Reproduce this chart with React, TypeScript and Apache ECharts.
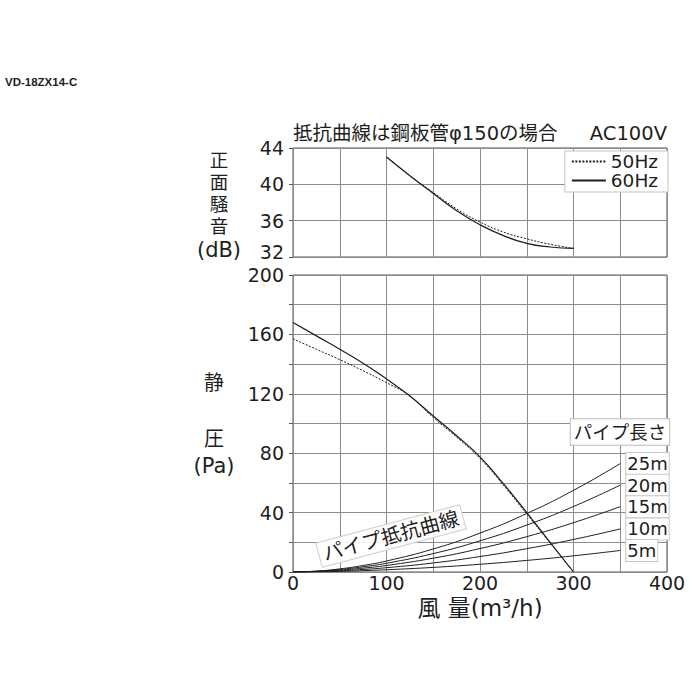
import React, { useEffect, useRef } from "react";
import * as echarts from "echarts";

// ---- data ----
const airflowUpper = [100, 125, 150, 175, 200, 225, 250, 275, 300];
const noise50 = [43.0, 40.95, 39.1, 37.3, 35.85, 34.75, 34.0, 33.4, 32.95];
const noise60 = [43.0, 40.95, 39.0, 37.1, 35.55, 34.35, 33.5, 33.1, 32.95];

const airflowLower = [0, 25, 50, 75, 100, 125, 150, 175, 200, 225, 250, 275, 300];
const pressure50 = [157, 150, 143, 135.5, 127.5, 118.5, 104, 90.8, 76.5, 58.5, 39, 19.5, 0];
const pressure60 = [168, 159, 150, 140.5, 130, 118.5, 105, 91.8, 77.5, 59.5, 40, 20, 0];

const pipeFlow = [0, 25, 50, 75, 100, 150, 200, 250, 300, 350];
const pipeNames = ["25m", "20m", "15m", "10m", "5m"];
const pipe25 = [0, 0.6, 2.1, 4.4, 7.4, 15.5, 26.2, 39.4, 55, 73];
const pipe20 = [0, 0.5, 1.7, 3.5, 5.9, 12.4, 21, 31.6, 44.1, 58.5];
const pipe15 = [0, 0.35, 1.25, 2.6, 4.4, 9.3, 15.8, 23.8, 33.2, 44];
const pipe10 = [0, 0.23, 0.8, 1.7, 2.9, 6.1, 10.4, 15.7, 21.9, 29];
const pipe5 = [0, 0.1, 0.4, 0.9, 1.5, 3.1, 5.2, 7.8, 10.9, 14.5];
const pipeValues = [pipe25, pipe20, pipe15, pipe10, pipe5];

const xTicks = [0, 100, 200, 300, 400];
const pressureTicks = [0, 40, 80, 120, 160, 200];

const FONT = "'DejaVu Sans', 'Noto Sans CJK JP', sans-serif";
const FONT_SMALL = "'Liberation Sans', Arial, sans-serif";
const GRID_COLOR = "#8c8c8c";
const FRAME_COLOR = "#555";
const INK = "#1e1e1e";

const zip = (xs: number[], ys: number[]) => xs.map((x, i) => [x, ys[i]]);

export default function App() {
  const ref = useRef<HTMLDivElement>(null);

  useEffect(() => {
    if (!ref.current) return;
    const chart = echarts.init(ref.current, null, { renderer: "svg" });

    const pipeSeries = pipeNames.map((name, i) => ({
      name,
      type: "line",
      xAxisIndex: 1,
      yAxisIndex: 1,
      data: zip(pipeFlow, pipeValues[i]),
      smooth: true,
      symbol: "none",
      lineStyle: { color: INK, width: 1 },
      endLabel: {
        show: true,
        formatter: name,
        distance: 6,
        fontSize: 18,
        fontFamily: FONT,
        color: INK,
        backgroundColor: "#fff",
        borderColor: "#c8c8c8",
        borderWidth: 1,
        padding: [2, 1, 1, 1],
      },
      z: 3,
    }));

    const lineSeries = (name: string, xi: number, xs: number[], ys: number[], dashed: boolean) => ({
      name,
      type: "line",
      xAxisIndex: xi,
      yAxisIndex: xi,
      data: zip(xs, ys),
      smooth: true,
      symbol: "none",
      color: INK,
      itemStyle: { color: INK },
      lineStyle: dashed ? { color: INK, width: 1, type: [2, 1.5] } : { color: INK, width: 1.2 },
      z: 4,
    });

    const option: any = {
      animation: false,
      backgroundColor: "#fff",
      textStyle: { fontFamily: FONT },
      grid: [
        { left: 293, top: 148, width: 374, height: 109, show: true, borderColor: FRAME_COLOR, borderWidth: 1 },
        { left: 293, top: 275, width: 374, height: 297, show: true, borderColor: FRAME_COLOR, borderWidth: 1 },
      ],
      legend: {
        data: ["50Hz", "60Hz"],
        orient: "vertical",
        right: 32,
        top: 151,
        itemWidth: 34,
        itemHeight: 10,
        itemGap: 0,
        padding: [1, 10, 2, 6],
        backgroundColor: "#fff",
        borderColor: "#c4c4c4",
        borderWidth: 1,
        itemStyle: { opacity: 0 },
        textStyle: { fontSize: 18.5, lineHeight: 19, color: INK, fontFamily: FONT },
      },
      xAxis: [
        {
          gridIndex: 0,
          type: "value",
          min: 0,
          max: 400,
          interval: 50,
          axisLabel: { show: false },
          axisTick: { show: false },
          axisLine: { show: false },
          splitLine: { lineStyle: { color: GRID_COLOR, width: 1 } },
        },
        {
          gridIndex: 1,
          type: "value",
          min: 0,
          max: 400,
          interval: 50,
          axisLabel: {
            formatter: (v: number) => (xTicks.includes(v) ? String(v) : ""),
            margin: 1,
            fontSize: 19,
            color: INK,
            fontFamily: FONT,
          },
          axisTick: { show: false },
          axisLine: { show: false },
          splitLine: { lineStyle: { color: GRID_COLOR, width: 1 } },
          name: "風 量(m³/h)",
          nameLocation: "middle",
          nameGap: 24,
          nameTextStyle: { fontSize: 23, color: INK, fontFamily: FONT, verticalAlign: "top" },
        },
      ],
      yAxis: [
        {
          gridIndex: 0,
          type: "value",
          min: 32,
          max: 44,
          interval: 4,
          axisLabel: {
            margin: 9,
            fontSize: 19,
            color: INK,
            fontFamily: FONT,
            formatter: (v: number) => (v === 32 ? "{low|32}" : String(v)),
            rich: { low: { fontSize: 19, lineHeight: 19, color: INK, fontFamily: FONT, padding: [0, 0, 10, 0] } },
          },
          axisTick: { show: true, length: 4, lineStyle: { color: FRAME_COLOR } },
          axisLine: { show: false },
          splitLine: { lineStyle: { color: GRID_COLOR, width: 1 } },
        },
        {
          gridIndex: 1,
          type: "value",
          min: 0,
          max: 200,
          interval: 20,
          axisLabel: {
            margin: 9,
            fontSize: 19,
            color: INK,
            fontFamily: FONT,
            formatter: (v: number) => (pressureTicks.includes(v) ? String(v) : ""),
          },
          axisTick: { show: true, length: 4, lineStyle: { color: FRAME_COLOR } },
          axisLine: { show: false },
          splitLine: { lineStyle: { color: GRID_COLOR, width: 1 } },
        },
      ],
      series: [
        lineSeries("50Hz", 0, airflowUpper, noise50, true),
        lineSeries("60Hz", 0, airflowUpper, noise60, false),
        lineSeries("50Hz", 1, airflowLower, pressure50, true),
        lineSeries("60Hz", 1, airflowLower, pressure60, false),
        ...pipeSeries,
      ],
      graphic: [
        {
          type: "text",
          x: 5,
          y: 82,
          style: { text: "VD-18ZX14-C", fontSize: 11.5, fontWeight: "bold", fontFamily: FONT_SMALL, fill: INK, verticalAlign: "middle" },
        },
        {
          type: "text",
          x: 293,
          y: 133,
          style: { text: "抵抗曲線は鋼板管φ150の場合", fontSize: 19.5, fontFamily: FONT, fill: INK, verticalAlign: "middle" },
        },
        {
          type: "text",
          x: 667,
          y: 133,
          style: { text: "AC100V", fontSize: 19.5, fontFamily: FONT, fill: INK, align: "right", verticalAlign: "middle" },
        },
        ...["正", "面", "騒", "音"].map((ch, i) => ({
          type: "text",
          x: 219,
          y: 160 + i * 22,
          style: { text: ch, fontSize: 18.5, fontFamily: FONT, fill: INK, align: "center", verticalAlign: "middle" },
        })),
        {
          type: "text",
          x: 219,
          y: 250,
          style: { text: "(dB)", fontSize: 21, fontFamily: FONT, fill: INK, align: "center", verticalAlign: "middle" },
        },
        {
          type: "text",
          x: 214,
          y: 383,
          style: { text: "静", fontSize: 20, fontFamily: FONT, fill: INK, align: "center", verticalAlign: "middle" },
        },
        {
          type: "text",
          x: 214,
          y: 439,
          style: { text: "圧", fontSize: 20, fontFamily: FONT, fill: INK, align: "center", verticalAlign: "middle" },
        },
        {
          type: "text",
          x: 214,
          y: 466,
          style: { text: "(Pa)", fontSize: 21, fontFamily: FONT, fill: INK, align: "center", verticalAlign: "middle" },
        },
        {
          type: "text",
          x: 620,
          y: 432,
          z: 10,
          style: {
            text: "パイプ長さ",
            fontSize: 18.5,
            fontFamily: FONT,
            fill: INK,
            align: "center",
            verticalAlign: "middle",
            backgroundColor: "#fff",
            borderColor: "#bdbdbd",
            borderWidth: 1,
            padding: [4, 3, 3, 3],
          },
        },
        {
          type: "text",
          x: 391,
          y: 536,
          rotation: (15 * Math.PI) / 180,
          z: 10,
          style: {
            text: "パイプ抵抗曲線",
            fontSize: 20,
            fontFamily: FONT,
            fill: INK,
            align: "center",
            verticalAlign: "middle",
            backgroundColor: "rgba(255,255,255,0.9)",
            borderColor: "#cfcfcf",
            borderWidth: 1,
            padding: [2, 4, 2, 4],
          },
        },
      ],
    };

    chart.setOption(option);
    return () => chart.dispose();
  }, []);

  return <div ref={ref} style={{ position: "absolute", left: 0, top: 0, width: 700, height: 700 }} />;
}
